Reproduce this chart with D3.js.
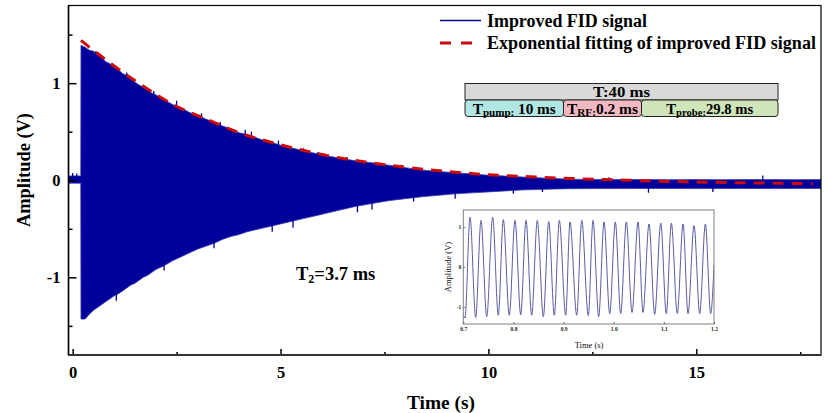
<!DOCTYPE html>
<html>
<head>
<meta charset="utf-8">
<script src="https://cdn.jsdelivr.net/npm/d3@7"></script>
<style>
  html, body { margin: 0; padding: 0; background: #fff; }
  svg { display: block; }
  text { font-family: "Liberation Serif", "Times New Roman", serif; }
</style>
</head>
<body>
<svg id="chart" width="830" height="413"></svg>
<script>
// ---------------- DATA ----------------
const xTicks = [0, 5, 10, 15];
const xMinorTicks = [2.5, 7.5, 12.5, 17.5];
const yTicks = [-1, 0, 1];
const yMinorTicks = [-1.5, -0.5, 0.5, 1.5];

// Envelope of the densely oscillating FID signal (upper / lower edge)
const envTime  = [-0.1, 0.195, 0.2, 0.3, 0.4, 0.5, 0.6, 0.7, 0.8, 0.9, 1.0, 1.1, 1.2, 1.3, 1.4, 1.5, 1.6, 1.7, 1.8, 1.9, 2.0, 2.2, 2.4, 2.6, 2.8, 3.0, 3.2, 3.4, 3.6, 3.8, 4.0, 4.2, 4.4, 4.6, 4.8, 5.0, 5.2, 5.4, 5.6, 5.8, 6.0, 6.4, 6.8, 7.2, 7.6, 8.0, 8.4, 8.8, 9.2, 9.6, 10.0, 10.4, 10.8, 11.2, 11.6, 12.0, 12.6, 13.2, 13.8, 14.4, 15.0, 15.6, 16.2, 16.8, 17.4, 18.0];
const envUpper = [0.045, 0.045, 1.39, 1.37, 1.34, 1.33, 1.29, 1.26, 1.22, 1.20, 1.16, 1.14, 1.10, 1.08, 1.05, 1.01, 0.98, 0.96, 0.93, 0.90, 0.88, 0.83, 0.78, 0.75, 0.70, 0.67, 0.63, 0.60, 0.56, 0.53, 0.49, 0.47, 0.44, 0.41, 0.39, 0.36, 0.34, 0.32, 0.30, 0.28, 0.26, 0.23, 0.20, 0.18, 0.155, 0.13, 0.105, 0.09, 0.078, 0.065, 0.052, 0.043, 0.034, 0.025, 0.017, 0.010, 0.008, 0.007, 0.007, 0.006, 0.007, 0.006, 0.007, 0.007, 0.006, 0.007];
const envLower = [-0.03, -0.03, -1.43, -1.43, -1.38, -1.34, -1.31, -1.28, -1.25, -1.22, -1.19, -1.17, -1.14, -1.11, -1.08, -1.06, -1.03, -1.00, -0.98, -0.95, -0.92, -0.88, -0.83, -0.79, -0.75, -0.71, -0.68, -0.65, -0.61, -0.58, -0.56, -0.53, -0.51, -0.49, -0.47, -0.45, -0.43, -0.41, -0.39, -0.37, -0.35, -0.31, -0.27, -0.24, -0.21, -0.19, -0.17, -0.155, -0.14, -0.13, -0.12, -0.11, -0.10, -0.095, -0.09, -0.087, -0.086, -0.086, -0.085, -0.085, -0.086, -0.085, -0.085, -0.086, -0.085, -0.085];

// Isolated noise spikes sticking out of the envelope
const spikeTime  = [0.0, 0.1, 0.55, 1.3, 1.95, 2.5, 3.1, 3.55, 4.15, 4.3, 4.95, 5.55, 5.9, 6.6, 7.9, 1.05, 2.2, 3.4, 4.8, 5.3, 6.85, 7.2, 8.2, 9.2, 10.6, 13.85, 16.6, 12.9, 15.4, 11.3];
const spikeValue = [0.075, 0.07, 1.33, 1.11, 0.92, 0.82, 0.69, 0.60, 0.52, 0.50, 0.41, 0.33, 0.29, 0.24, 0.16, -1.24, -0.93, -0.70, -0.53, -0.49, -0.33, -0.30, -0.22, -0.19, -0.14, -0.13, 0.05, 0.03, -0.12, -0.12];

// Exponential fit (red dashed)
const fitTime  = [0.2, 0.86, 1.66, 2.46, 3.27, 4.07, 4.87, 6.0, 7.0, 8.0, 9.0, 10.0, 11.0, 12.0, 13.0, 14.0, 15.0, 16.0, 17.0, 17.8];
const fitValue = [1.44, 1.22, 0.98, 0.77, 0.62, 0.48, 0.38, 0.265, 0.19, 0.135, 0.09, 0.057, 0.036, 0.018, 0.005, -0.008, -0.018, -0.025, -0.031, -0.035];

// Inset: zoomed FID oscillation between 0.7 and 1.2 (extrema)
const insetTime = [0.700, 0.7034, 0.7134, 0.7247, 0.7353, 0.7467, 0.7586, 0.7698, 0.7798, 0.7917, 0.8031, 0.8145, 0.8251, 0.8364, 0.8476, 0.8596, 0.8704, 0.8815, 0.8915, 0.9042, 0.9128, 0.9262, 0.9362, 0.9493, 0.9587, 0.9700, 0.9807, 0.9920, 1.0032, 1.0139, 1.0252, 1.0365, 1.0485, 1.0584, 1.0704, 1.0817, 1.0938, 1.1049, 1.1149, 1.1268, 1.1383, 1.1482, 1.1602, 1.1715, 1.1828, 1.1934, 1.2000];
const insetAmp  = [-1.20, -1.28, 1.25, -1.27, 1.17, -1.25, 1.25, -1.21, 1.19, -1.21, 1.17, -1.20, 1.17, -1.21, 1.17, -1.25, 1.14, -1.21, 1.17, -1.21, 1.13, -1.21, 1.17, -1.22, 1.17, -1.25, 1.13, -1.17, 1.13, -1.17, 1.13, -1.14, 1.13, -1.14, 1.08, -1.19, 1.10, -1.17, 1.10, -1.17, 1.08, -1.17, 1.04, -1.17, 1.08, -1.17, 0.05];
const insetXTicks = [0.7, 0.8, 0.9, 1.0, 1.1, 1.2];
const insetYTicks = [-1, 0, 1];

// Legend / annotation texts
const legendLabels = ["Improved FID signal", "Exponential fitting of improved FID signal"];
const timingTotal = "T:40 ms";
const timingParts = [
  { sub: "pump:", val: " 10 ms", color: "#b2e6e2" },
  { sub: "RF:",   val: "0.2 ms", color: "#f3b9c3" },
  { sub: "probe:", val: "29.8 ms", color: "#cfe4b9" }
];
const t2Label = { main: "T", sub: "2", rest: "=3.7 ms" };

// ---------------- DRAWING ----------------
const svg = d3.select("#chart");
const M = { left: 68.5, right: 821, top: 5.5, bottom: 355 };

const x = d3.scaleLinear().domain([-0.1, 18]).range([M.left, M.right]);
const y = d3.scaleLinear().domain([-1.8, 1.8]).range([M.bottom, M.top]);

svg.append("defs").append("clipPath").attr("id", "plotclip")
  .append("rect").attr("x", M.left).attr("y", M.top)
  .attr("width", M.right - M.left).attr("height", M.bottom - M.top);

const plot = svg.append("g").attr("clip-path", "url(#plotclip)");
const BLUE = "#00009a";
const hyphenInt = d => String(d);   // "-1" with ASCII hyphen like the reference

// Signal band
const envData = envTime.map((t, i) => ({ t, u: envUpper[i], l: envLower[i] }));
plot.append("path")
  .datum(envData)
  .attr("fill", BLUE)
  .attr("stroke", "#3a3ab8")
  .attr("stroke-width", 0.8)
  .attr("d", d3.area().x(d => x(d.t)).y0(d => y(d.l)).y1(d => y(d.u)));

// Noise spikes
plot.selectAll("line.spike")
  .data(spikeTime.map((t, i) => ({ t, v: spikeValue[i] })))
  .enter().append("line")
  .attr("class", "spike")
  .attr("x1", d => x(d.t)).attr("x2", d => x(d.t))
  .attr("y1", y(0)).attr("y2", d => y(d.v))
  .attr("stroke", BLUE).attr("stroke-width", 1.3);

// Exponential fit
plot.append("path")
  .datum(fitTime.map((t, i) => ({ t, v: fitValue[i] })))
  .attr("fill", "none")
  .attr("stroke", "#cc0a0a")
  .attr("stroke-width", 3)
  .attr("stroke-dasharray", "11,8")
  .attr("d", d3.line().x(d => x(d.t)).y(d => y(d.v)).curve(d3.curveMonotoneX));

// Frame
svg.append("rect")
  .attr("x", M.left).attr("y", M.top)
  .attr("width", M.right - M.left).attr("height", M.bottom - M.top)
  .attr("fill", "none").attr("stroke", "#000").attr("stroke-width", 1.2);

// Axes (ticks inward)
const xAxis = svg.append("g").attr("transform", `translate(0,${M.bottom})`);
xAxis.call(d3.axisBottom(x).tickValues(xTicks).tickSize(-6).tickPadding(11).tickFormat(hyphenInt));
const xMinor = svg.append("g").attr("transform", `translate(0,${M.bottom})`);
xMinor.call(d3.axisBottom(x).tickValues(xMinorTicks).tickSize(-3).tickFormat(""));

const yAxis = svg.append("g").attr("transform", `translate(${M.left},0)`);
yAxis.call(d3.axisLeft(y).tickValues(yTicks).tickSize(-8).tickPadding(8).tickFormat(hyphenInt));
const yMinor = svg.append("g").attr("transform", `translate(${M.left},0)`);
yMinor.call(d3.axisLeft(y).tickValues(yMinorTicks).tickSize(-4).tickFormat(""));

[xAxis, xMinor, yAxis, yMinor].forEach(g => {
  g.select(".domain").remove();
  g.selectAll(".tick line").attr("stroke", "#000").attr("stroke-width", 1.5);
  g.selectAll(".tick text")
    .attr("font-family", "Liberation Serif, serif")
    .attr("font-weight", "bold").attr("font-size", 16.5).attr("fill", "#000");
});
// bottom and left axis lines a bit heavier
svg.append("line").attr("x1", M.left).attr("x2", M.right).attr("y1", M.bottom).attr("y2", M.bottom)
  .attr("stroke", "#333").attr("stroke-width", 2);
svg.append("line").attr("x1", M.left).attr("x2", M.left).attr("y1", M.top).attr("y2", M.bottom)
  .attr("stroke", "#000").attr("stroke-width", 1.5);

// Axis titles
svg.append("text")
  .attr("x", 441).attr("y", 409)
  .attr("text-anchor", "middle").attr("font-weight", "bold").attr("font-size", 19.5)
  .attr("textLength", 68).attr("lengthAdjust", "spacingAndGlyphs")
  .text("Time (s)");
svg.append("text")
  .attr("transform", "translate(30,170) rotate(-90)")
  .attr("text-anchor", "middle").attr("font-weight", "bold").attr("font-size", 19.5)
  .attr("textLength", 114).attr("lengthAdjust", "spacingAndGlyphs")
  .text("Amplitude (V)");

// Legend
const leg = svg.append("g");
leg.append("line").attr("x1", 440).attr("x2", 481).attr("y1", 20.5).attr("y2", 20.5)
  .attr("stroke", BLUE).attr("stroke-width", 1.5);
leg.append("line").attr("x1", 440).attr("x2", 481).attr("y1", 43).attr("y2", 43)
  .attr("stroke", "#cc0a0a").attr("stroke-width", 3).attr("stroke-dasharray", "11,10");
const legWidths = [160, 329];
leg.selectAll("text.leg").data(legendLabels).enter().append("text")
  .attr("class", "leg")
  .attr("x", 487).attr("y", (d, i) => 26.5 + i * 22.5)
  .attr("font-weight", "bold").attr("font-size", 18)
  .attr("textLength", (d, i) => legWidths[i]).attr("lengthAdjust", "spacingAndGlyphs")
  .text(d => d);

// Timing box
const tb = svg.append("g");
tb.append("rect").attr("x", 465).attr("y", 83.5).attr("width", 313).attr("height", 16.5)
  .attr("fill", "#d9d9d9").attr("stroke", "#222").attr("stroke-width", 1);
tb.append("text").attr("x", 621.5).attr("y", 96.5).attr("text-anchor", "middle")
  .attr("font-weight", "bold").attr("font-size", 15)
  .attr("textLength", 57).attr("lengthAdjust", "spacingAndGlyphs")
  .text(timingTotal);
const partX = [465, 563.5, 641.5, 778];
const partTextW = [83, 71, 87];
timingParts.forEach((p, i) => {
  tb.append("rect").attr("x", partX[i]).attr("y", 100).attr("width", partX[i + 1] - partX[i]).attr("height", 16.5)
    .attr("rx", 3).attr("fill", p.color).attr("stroke", "#222").attr("stroke-width", 1);
  const t = tb.append("text").attr("x", (partX[i] + partX[i + 1]) / 2).attr("y", 113.5)
    .attr("text-anchor", "middle").attr("font-weight", "bold").attr("font-size", 14.5)
    .attr("textLength", partTextW[i]).attr("lengthAdjust", "spacingAndGlyphs");
  t.append("tspan").text("T");
  t.append("tspan").attr("font-size", 10.5).attr("dy", 2.5).text(p.sub);
  t.append("tspan").attr("dy", -2.5).text(p.val);
});

// T2 annotation
const t2 = svg.append("text").attr("x", 296).attr("y", 279.5)
  .attr("font-weight", "bold").attr("font-size", 18.5);
t2.append("tspan").text(t2Label.main);
t2.append("tspan").attr("font-size", 12).attr("dy", 3.5).text(t2Label.sub);
t2.append("tspan").attr("dy", -3.5).text(t2Label.rest);

// ---------------- INSET ----------------
const I = { left: 463.3, right: 714, top: 210, bottom: 324 };
const xi = d3.scaleLinear().domain([0.7, 1.2]).range([I.left, I.right]);
const yi = d3.scaleLinear().domain([-1.43, 1.43]).range([I.bottom, I.top]);

svg.select("defs").append("clipPath").attr("id", "insetclip")
  .append("rect").attr("x", I.left).attr("y", I.top)
  .attr("width", I.right - I.left).attr("height", I.bottom - I.top);

svg.append("rect").attr("x", I.left).attr("y", I.top)
  .attr("width", I.right - I.left).attr("height", I.bottom - I.top)
  .attr("fill", "#fff").attr("stroke", "none");

svg.append("g").attr("clip-path", "url(#insetclip)")
  .append("path")
  .datum(insetTime.map((t, i) => ({ t, v: insetAmp[i] })))
  .attr("fill", "none").attr("stroke", "#5b5ba3").attr("stroke-width", 1)
  .attr("d", d3.line().x(d => xi(d.t)).y(d => yi(d.v)).curve(d3.curveMonotoneX));

svg.append("rect").attr("x", I.left).attr("y", I.top)
  .attr("width", I.right - I.left).attr("height", I.bottom - I.top)
  .attr("fill", "none").attr("stroke", "#808080").attr("stroke-width", 1);

const ixa = svg.append("g").attr("transform", `translate(0,${I.bottom})`)
  .call(d3.axisBottom(xi).tickValues(insetXTicks).tickSize(-2).tickPadding(3).tickFormat(d3.format(".1f")));
const iya = svg.append("g").attr("transform", `translate(${I.left},0)`)
  .call(d3.axisLeft(yi).tickValues(insetYTicks).tickSize(-2).tickPadding(2).tickFormat(hyphenInt));
[ixa, iya].forEach(g => {
  g.select(".domain").remove();
  g.selectAll(".tick line").attr("stroke", "#555").attr("stroke-width", 0.8);
  g.selectAll(".tick text").attr("font-family", "Liberation Serif, serif")
    .attr("font-weight", "bold").attr("font-size", 5.5).attr("fill", "#222");
});
svg.append("text").attr("x", 589).attr("y", 348).attr("text-anchor", "middle")
  .attr("font-size", 8.5).attr("fill", "#111").text("Time (s)");
svg.append("text").attr("transform", "translate(451,267) rotate(-90)").attr("text-anchor", "middle")
  .attr("font-size", 8.5).attr("fill", "#111").text("Amplitude (V)");
</script>
</body>
</html>
